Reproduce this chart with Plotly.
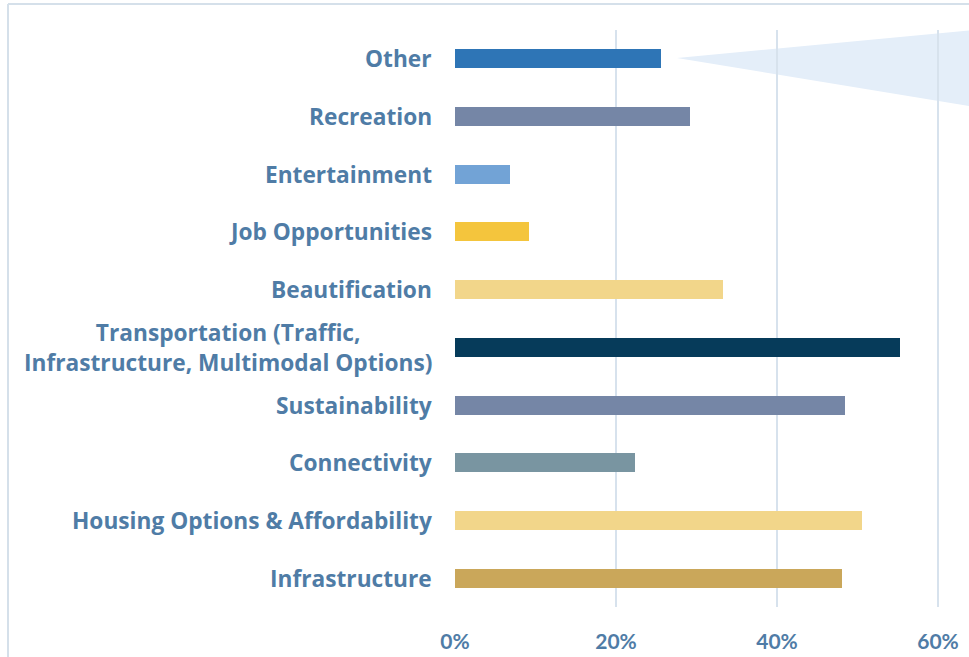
import plotly.graph_objects as go

categories = [
    "Other",
    "Recreation",
    "Entertainment",
    "Job Opportunities",
    "Beautification",
    "Transportation (Traffic,<br>Infrastructure, Multimodal Options)",
    "Sustainability",
    "Connectivity",
    "Housing Options & Affordability",
    "Infrastructure",
]
values = [25.6, 29.2, 6.8, 9.2, 33.3, 55.3, 48.4, 22.4, 50.6, 48.1]
bar_colors = [
    "#2e75b6", "#7586a6", "#72a3d6", "#f4c53d", "#f2d68a",
    "#063b5a", "#7586a6", "#7995a1", "#f2d68a", "#caa75a",
]
x_ticks = [0, 20, 40, 60]
x_tick_labels = ["0%", "20%", "40%", "60%"]

W, H = 969, 657
L, R, T, B = 455, 0, 30, 50
pw, ph = W - L - R, H - T - B
xmax = 63.85

text_color = "#4f7ca6"
grid_color = "#d7e2ed"
label_font = "Open Sans"
tick_font = "Lato"

fig = go.Figure()
fig.add_trace(go.Bar(
    y=list(range(len(categories))),
    x=values,
    orientation="h",
    marker=dict(color=bar_colors, line=dict(width=0)),
    width=0.33,
    hoverinfo="x",
    showlegend=False,
))

# category labels as annotations (centered multi-line)
for i, c in enumerate(categories):
    fig.add_annotation(
        x=0, xref="paper", y=i, yref="y",
        text=f"<b>{c}</b>", showarrow=False,
        xanchor="right", yanchor="middle", align="center",
        xshift=-21,
        font=dict(family=label_font, size=22.7, color=text_color),
    )

def px_x(p):
    return (p - L) / pw

def px_y(p):
    return (H - B - p) / ph

shapes = [
    # callout triangle
    dict(type="path", xref="paper", yref="paper", layer="below",
         path=f"M {px_x(677)} {px_y(58)} L {px_x(975)} {px_y(30)} L {px_x(975)} {px_y(107)} Z",
         fillcolor="#e4eef9", line=dict(width=0)),
    # frame
    dict(type="line", xref="paper", yref="paper",
         x0=px_x(8), x1=px_x(8), y0=px_y(4), y1=px_y(670),
         line=dict(color="#d5e0ea", width=2)),
    dict(type="line", xref="paper", yref="paper",
         x0=px_x(8), x1=px_x(980), y0=px_y(4), y1=px_y(4),
         line=dict(color="#d5e0ea", width=2)),
]

fig.update_layout(
    width=W, height=H,
    margin=dict(l=L, r=R, t=T, b=B, autoexpand=False),
    plot_bgcolor="white", paper_bgcolor="white",
    shapes=shapes,
    xaxis=dict(
        range=[0, xmax], tickvals=x_ticks, ticktext=x_tick_labels,
        showgrid=True, gridcolor=grid_color, gridwidth=2,
        zeroline=False, showline=False, ticks="",
        ticklabelstandoff=20,
        tickfont=dict(family=tick_font, size=21, color=text_color, weight="bold"),
        fixedrange=True,
    ),
    yaxis=dict(
        range=[len(categories) - 0.5, -0.5],
        showticklabels=False, showgrid=False, zeroline=False,
        showline=False, ticks="", fixedrange=True,
    ),
    bargap=0,
)

fig.write_html("out.html", config={"displayModeBar": False},
               post_script="document.body.style.margin='0';")
